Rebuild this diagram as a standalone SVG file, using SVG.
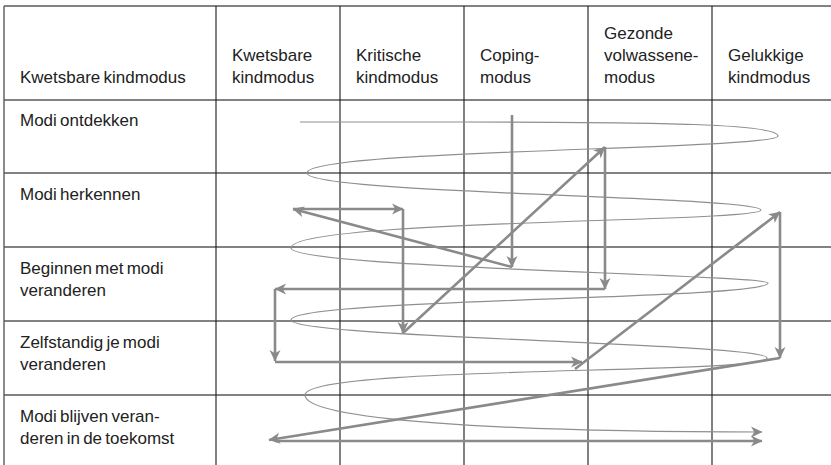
<svg xmlns="http://www.w3.org/2000/svg" width="831" height="465" viewBox="0 0 831 465">
<style>
  .t { font-family: "Liberation Sans", Arial, sans-serif; font-size: 17px; fill: #222; word-spacing: -1.5px; }
  .h { stroke: #5a5a5a; stroke-width: 1.4; fill: none; }
  .v { stroke: #1a1a1a; stroke-width: 1.1; fill: none; }
  .arr { stroke: #8a8a8a; stroke-width: 2.6; fill: none; marker-end: url(#ah); }
  .spiral { stroke: #8f8f8f; stroke-width: 1.2; fill: none; }
</style>
<defs>
  <marker id="ah" viewBox="0 0 12 12" refX="11" refY="6" markerWidth="12" markerHeight="12" markerUnits="userSpaceOnUse" orient="auto">
    <path d="M0,0.5 L11.5,6 L0,11.5 L3.2,6 z" fill="#8a8a8a"/>
  </marker>
</defs>
<rect width="831" height="465" fill="#fff"/>

<g id="grid">
  <path class="h" d="M4,6 H831 M4,100 H831 M4,173 H831 M4,247 H831 M4,321 H831 M4,395 H831"/>
  <path class="h" d="M4,6 V465"/>
  <path class="v" d="M216,6 V465 M340,6 V465 M464,6 V465 M588,6 V465 M712,6 V465"/>
</g>

<g id="header">
  <g id="h-label"><text class="t" x="20" y="83">Kwetsbare kindmodus</text></g>
  <g id="col-kwetsbaar"><text class="t" x="232" y="61">Kwetsbare</text><text class="t" x="232" y="83">kindmodus</text></g>
  <g id="col-kritisch"><text class="t" x="356" y="61">Kritische</text><text class="t" x="356" y="83">kindmodus</text></g>
  <g id="col-coping"><text class="t" x="480" y="61">Coping-</text><text class="t" x="480" y="83">modus</text></g>
  <g id="col-gezond"><text class="t" x="604" y="39">Gezonde</text><text class="t" x="604" y="61">volwassene-</text><text class="t" x="604" y="83">modus</text></g>
  <g id="col-gelukkig"><text class="t" x="728" y="61">Gelukkige</text><text class="t" x="728" y="83">kindmodus</text></g>
</g>

<g id="rows">
  <g id="row-ontdekken"><text class="t" x="20" y="126">Modi ontdekken</text></g>
  <g id="row-herkennen"><text class="t" x="20" y="200">Modi herkennen</text></g>
  <g id="row-beginnen"><text class="t" x="20" y="274">Beginnen met modi</text><text class="t" x="20" y="296">veranderen</text></g>
  <g id="row-zelfstandig"><text class="t" x="20" y="348">Zelfstandig je modi</text><text class="t" x="20" y="370">veranderen</text></g>
  <g id="row-blijven"><text class="t" x="20" y="422">Modi blijven veran-</text><text class="t" x="20" y="444">deren in de toekomst</text></g>
</g>

<g id="spiral">
  <path class="spiral" marker-end="url(#ah)" d="M300,122 L460,122 C660,122 778,124 778,136
    C778,150 307,149 307,173
    C307,194 761,196 761,210
    C761,222.5 291,219.4 291,248
    C291,268 768,274.6 768,283
    C768,299.8 291,298.4 291,320
    C291,338 767,343 767,358
    C767,375 305,365 305,395
    C305,420 500,432 762,432"/>
</g>

<g id="connectors">
  <line class="arr" x1="512" y1="115" x2="512" y2="267"/>
  <line class="arr" x1="512" y1="267" x2="293" y2="209"/>
  <line class="arr" x1="293" y1="209" x2="403" y2="209"/>
  <line class="arr" x1="403" y1="209" x2="403" y2="333"/>
  <line class="arr" x1="403" y1="333" x2="605" y2="147"/>
  <line class="arr" x1="605" y1="147" x2="605" y2="289"/>
  <line class="arr" x1="605" y1="289" x2="275" y2="289"/>
  <line class="arr" x1="275" y1="289" x2="275" y2="361"/>
  <line class="arr" x1="275" y1="362" x2="582" y2="362"/>
  <line class="arr" x1="575" y1="369" x2="780" y2="212"/>
  <line class="arr" x1="780" y1="212" x2="780" y2="358"/>
  <line class="arr" x1="780" y1="358" x2="269" y2="440"/>
  <line class="arr" x1="275" y1="441" x2="762" y2="441"/>
</g>
</svg>
